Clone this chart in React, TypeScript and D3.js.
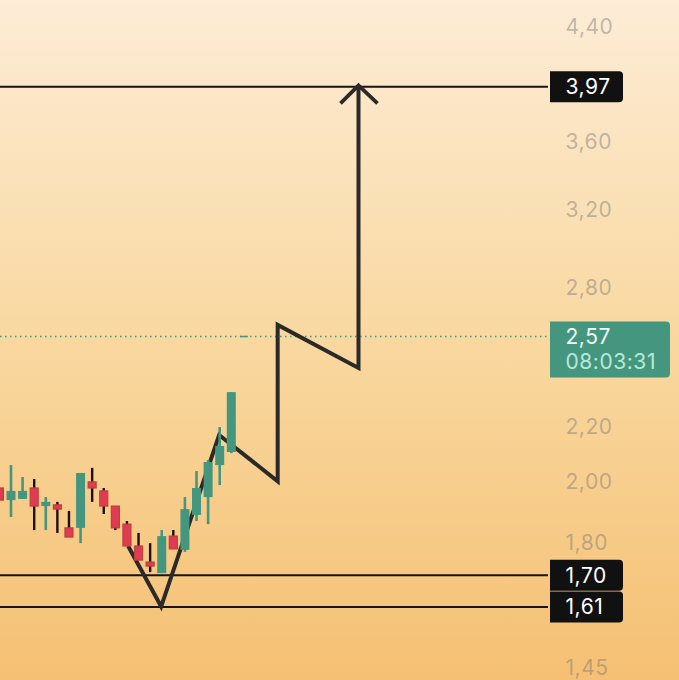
import React from 'react';
import * as d3 from 'd3';

const WIDTH = 679;
const HEIGHT = 680;

// candles, left to right
const opens = [1.977, 1.936, 1.940, 1.977, 1.916, 1.920, 1.845, 1.845, 1.998, 1.967, 1.916, 1.857, 1.788, 1.739, 1.706, 1.819, 1.776, 1.887, 1.946, 2.057, 2.104];
const closes = [1.936, 1.967, 1.967, 1.916, 1.930, 1.906, 1.816, 2.029, 1.977, 1.916, 1.845, 1.788, 1.745, 1.727, 1.819, 1.779, 1.906, 1.977, 2.068, 2.126, 2.334];
const highs = [1.977, 2.057, 2.015, 2.008, 1.946, 1.930, 1.900, 2.029, 2.047, 1.977, 1.916, 1.867, 1.829, 1.797, 1.838, 1.838, 1.946, 2.036, 2.075, 2.197, 2.334];
const lows = [1.936, 1.880, 1.940, 1.838, 1.838, 1.829, 1.816, 1.797, 1.930, 1.890, 1.838, 1.788, 1.745, 1.709, 1.706, 1.779, 1.770, 1.867, 1.857, 1.987, 2.100];

// hand drawn projection
const zigzagIndex = [11.1, 13.95, 18.95, 24.0, 24.0, 30.97, 30.97];
const zigzagPrice = [1.788, 1.61, 2.167, 2.0, 2.622, 2.434, 3.97];

const axisTicks = [4.4, 3.6, 3.2, 2.8, 2.2, 2.0, 1.8, 1.45];
// where each level sits on the axis, and the label printed on its tag
const levels = [3.96, 1.7, 1.609];
const levelLabels = ['3,97', '1,70', '1,61'];
const lastPrice = 2.57;
const countdown = '08:03:31';

const GREEN = '#44967f';
const RED = '#e03b50';
const RED_EDGE = '#b8413f';
const WICK_DARK = '#1c0f0a';
const AXIS_LEFT = 550;
const LINE_END = 548;
const TEXT_LEFT = 565.5;

const y = d3.scaleLog().domain([1.45, 4.4]).range([667, 26]);
const x = d3.scaleLinear().domain([0, 20]).range([-0.6, 231.3]);
const fmt = d3.formatLocale({ decimal: ',', thousands: '.', grouping: [3], currency: ['', ''] }).format('.2f');

// rectangle with only the right corners rounded
const tagPath = (top: number, bottom: number, right: number, r = 4) =>
    `M${AXIS_LEFT},${top}H${right - r}Q${right},${top} ${right},${top + r}V${bottom - r}Q${right},${bottom} ${right - r},${bottom}H${AXIS_LEFT}Z`;

export default function App() {
    const line = d3.line<number>()
        .x((_, i) => x(zigzagIndex[i]))
        .y(d => y(d));

    const tipX = x(zigzagIndex[zigzagIndex.length - 1]);
    const tipY = y(zigzagPrice[zigzagPrice.length - 1]);

    return (
        <svg
            width={WIDTH}
            height={HEIGHT}
            viewBox={`0 0 ${WIDTH} ${HEIGHT}`}
            style={{ position: 'absolute', left: 0, top: 0, display: 'block' }}
            fontFamily="Inter, Roboto, sans-serif"
            letterSpacing={0.55}
        >
            <defs>
                <linearGradient id="bg" x1="0" y1="0" x2="0" y2="1">
                    <stop offset="0" stopColor="#fdecd6" />
                    <stop offset="0.5" stopColor="#f9d8a0" />
                    <stop offset="1" stopColor="#f5c073" />
                </linearGradient>
            </defs>
            <rect width={WIDTH} height={HEIGHT} fill="url(#bg)" />

            {axisTicks.map(t => (
                <text key={t} x={TEXT_LEFT} y={y(t)} dy="0.36em" fontSize={21} fill="#7a7a7a" fillOpacity={0.48}>
                    {fmt(t)}
                </text>
            ))}

            {/* last price dotted line */}
            <line x1={0} x2={LINE_END} y1={y(lastPrice)} y2={y(lastPrice)} stroke={GREEN} strokeWidth={1.3} strokeDasharray="1.5 3.5" />
            <line x1={x(21) - 3} x2={x(21) + 5} y1={y(lastPrice)} y2={y(lastPrice)} stroke={GREEN} strokeWidth={1.5} />

            {levels.map(l => (
                <line key={l} x1={0} x2={LINE_END} y1={y(l)} y2={y(l)} stroke="#1a1410" strokeWidth={2} />
            ))}

            <path d={line(zigzagPrice) ?? ''} fill="none" stroke="#2b2a28" strokeWidth={4} strokeLinejoin="miter" />
            <path
                d={`M${tipX - 18},${tipY + 18}L${tipX},${tipY}L${tipX + 19},${tipY + 18}`}
                fill="none"
                stroke="#2b2a28"
                strokeWidth={3.8}
            />

            {opens.map((open, i) => {
                const up = closes[i] >= open;
                const top = y(Math.max(open, closes[i]));
                const bottom = y(Math.min(open, closes[i]));
                return (
                    <g key={i}>
                        <line
                            x1={x(i)}
                            x2={x(i)}
                            y1={y(highs[i])}
                            y2={y(lows[i])}
                            stroke={up ? GREEN : WICK_DARK}
                            strokeWidth={up ? 2.6 : 2.4}
                        />
                        {up ? (
                            <rect x={x(i) - 4.5} y={top} width={9} height={bottom - top} fill={GREEN} />
                        ) : (
                            <rect
                                x={x(i) - 4}
                                y={top}
                                width={8}
                                height={bottom - top}
                                fill={RED}
                                stroke={RED_EDGE}
                                strokeWidth={1.2}
                            />
                        )}
                    </g>
                );
            })}

            {levels.map((l, i) => (
                <g key={`tag-${l}`}>
                    <path d={tagPath(y(l) - 15.5, y(l) + 15.5, 623)} fill="#111111" />
                    <text x={TEXT_LEFT} y={y(l)} dy="0.36em" fontSize={21} fill="#ffffff">
                        {levelLabels[i]}
                    </text>
                </g>
            ))}

            <path d={tagPath(y(lastPrice) - 15, y(lastPrice) + 41, 670)} fill={GREEN} />
            <text x={TEXT_LEFT} y={344} fontSize={21} fill="#f4fbf8">{fmt(lastPrice)}</text>
            <text x={TEXT_LEFT} y={369} fontSize={21} fill="#b9e8d8">{countdown}</text>
        </svg>
    );
}
